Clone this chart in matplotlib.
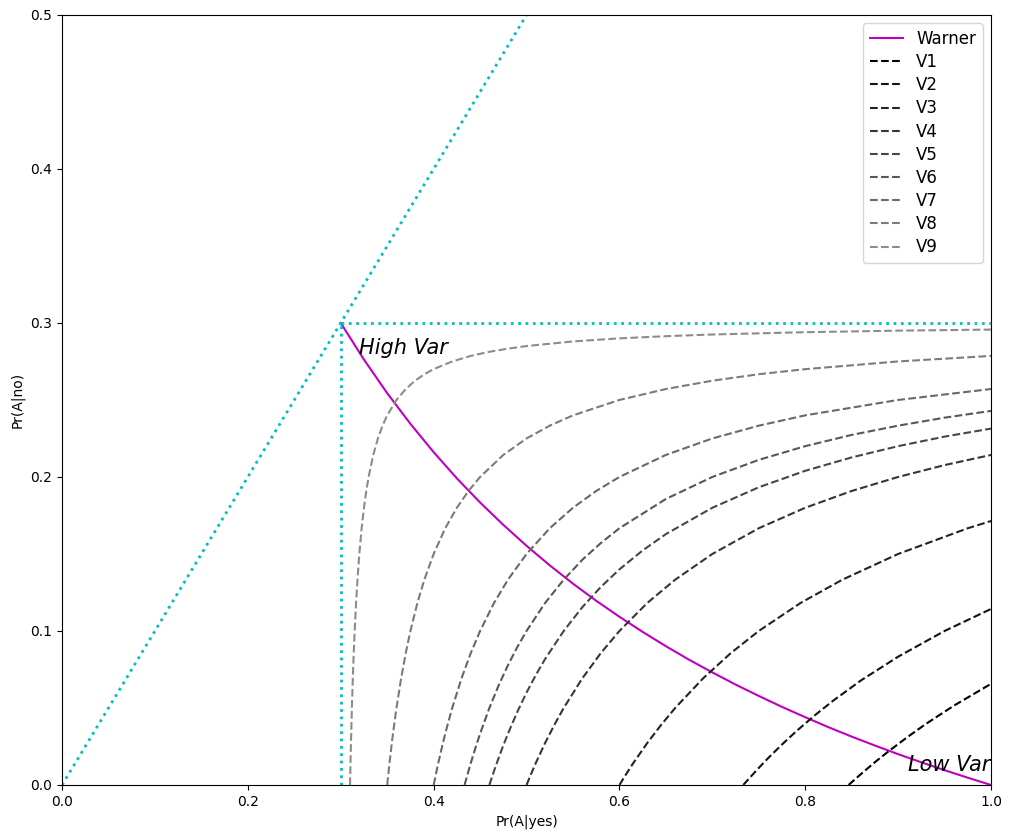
import numpy as np
import matplotlib
matplotlib.use('Agg')
import matplotlib.pyplot as plt

# Warner curve
warner_x = [0.3, 0.325, 0.35, 0.375, 0.4, 0.425, 0.45, 0.475, 0.5, 0.525, 0.55, 0.575, 0.6, 0.625,
            0.65, 0.675, 0.7, 0.725, 0.75, 0.775, 0.8, 0.825, 0.85, 0.875, 0.9, 0.925, 0.95, 0.975, 1.0]
warner_y = [0.3, 0.2762, 0.2544, 0.2345, 0.2161, 0.1991, 0.1834, 0.1689, 0.1553, 0.1426, 0.1307, 0.1196,
            0.1092, 0.0994, 0.0901, 0.0813, 0.0731, 0.0652, 0.0578, 0.0507, 0.0440, 0.0375, 0.0314,
            0.0256, 0.0200, 0.0147, 0.0096, 0.0047, 0.0]

# constant variance curves V1..V9
v1_x = [0.8467, 0.85, 0.86, 0.875, 0.89, 0.91, 0.93, 0.96, 1.0]
v1_y = [0.0, 0.0018, 0.0071, 0.0148, 0.022, 0.0311, 0.0397, 0.0515, 0.0657]

v2_x = [0.7333, 0.74, 0.75, 0.76, 0.775, 0.79, 0.81, 0.83, 0.86, 0.9, 0.95, 1.0]
v2_y = [0.0, 0.0045, 0.0111, 0.0174, 0.0263, 0.0347, 0.0451, 0.0547, 0.0679, 0.0833, 0.1, 0.1143]

v3_x = [0.6, 0.6075, 0.615, 0.63, 0.645, 0.66, 0.69, 0.72, 0.75, 0.795, 0.84, 0.9, 0.975, 1.0]
v3_y = [0.0, 0.0073, 0.0143, 0.0273, 0.0391, 0.05, 0.0692, 0.0857, 0.1, 0.1182, 0.1333, 0.15, 0.1667, 0.1714]

v4_x = [0.5, 0.505, 0.51, 0.52, 0.53, 0.54, 0.56, 0.58, 0.6, 0.63, 0.66, 0.7, 0.75, 0.8, 0.85, 0.9, 0.95, 1.0]
v4_y = [0.0, 0.0073, 0.0143, 0.0273, 0.0391, 0.05, 0.0692, 0.0857, 0.1, 0.1182, 0.1333, 0.15, 0.1667,
        0.18, 0.1909, 0.2, 0.2077, 0.2143]

v5_x = [0.46, 0.4625, 0.465, 0.47, 0.475, 0.48, 0.49, 0.5, 0.51, 0.52, 0.54, 0.56, 0.58, 0.6, 0.625,
        0.65, 0.7, 0.75, 0.8, 0.85, 0.9, 0.95, 1.0]
v5_y = [0.0, 0.0046, 0.0091, 0.0176, 0.0257, 0.0333, 0.0474, 0.06, 0.0714, 0.0818, 0.1, 0.1154, 0.1286,
        0.14, 0.1523, 0.1629, 0.18, 0.1933, 0.204, 0.2127, 0.22, 0.2262, 0.2314]

v6_x = [0.4333, 0.436, 0.44, 0.445, 0.45, 0.46, 0.47, 0.48, 0.49, 0.5, 0.52, 0.54, 0.56, 0.58, 0.6,
        0.65, 0.7, 0.75, 0.8, 0.85, 0.9, 0.95, 1.0]
v6_y = [0.0, 0.0059, 0.0143, 0.0241, 0.0333, 0.05, 0.0647, 0.0778, 0.0895, 0.1, 0.1182, 0.1333, 0.1462,
        0.1571, 0.1667, 0.1857, 0.2, 0.2111, 0.22, 0.2273, 0.2333, 0.2385, 0.2429]

v7_x = [0.4, 0.405, 0.41, 0.415, 0.42, 0.43, 0.44, 0.45, 0.465, 0.48, 0.5, 0.525, 0.55, 0.575, 0.6,
        0.65, 0.7, 0.75, 0.8, 0.9, 1.0]
v7_y = [0.0, 0.0143, 0.0273, 0.0391, 0.05, 0.0692, 0.0857, 0.1, 0.1182, 0.1333, 0.15, 0.1667, 0.18,
        0.1909, 0.2, 0.2143, 0.225, 0.2333, 0.24, 0.25, 0.2571]

v8_x = [0.35, 0.3525, 0.355, 0.3575, 0.36, 0.365, 0.37, 0.375, 0.3825, 0.39, 0.4, 0.4125, 0.425, 0.4375,
        0.45, 0.475, 0.5, 0.525, 0.55, 0.6, 0.65, 0.7, 0.75, 0.8, 0.9, 1.0]
v8_y = [0.0, 0.0143, 0.0273, 0.0391, 0.05, 0.0692, 0.0857, 0.1, 0.1182, 0.1333, 0.15, 0.1667, 0.18, 0.1909,
        0.2, 0.2143, 0.225, 0.2333, 0.24, 0.25, 0.2571, 0.2625, 0.2667, 0.27, 0.275, 0.2786]

v9_x = [0.31, 0.3105, 0.311, 0.3115, 0.312, 0.313, 0.314, 0.315, 0.3165, 0.318, 0.32, 0.3225, 0.325,
        0.3275, 0.33, 0.335, 0.34, 0.345, 0.35, 0.36, 0.37, 0.38, 0.39, 0.4, 0.42, 0.44, 0.46, 0.48,
        0.5, 0.55, 0.6, 0.65, 0.7, 0.8, 0.9, 1.0]
v9_y = [0.0, 0.0143, 0.0273, 0.0391, 0.05, 0.0692, 0.0857, 0.1, 0.1182, 0.1333, 0.15, 0.1667, 0.18,
        0.1909, 0.2, 0.2143, 0.225, 0.2333, 0.24, 0.25, 0.2571, 0.2625, 0.2667, 0.27, 0.275, 0.2786,
        0.2813, 0.2833, 0.285, 0.288, 0.29, 0.2914, 0.2925, 0.294, 0.295, 0.2957]

v_x = [v1_x, v2_x, v3_x, v4_x, v5_x, v6_x, v7_x, v8_x, v9_x]
v_y = [v1_y, v2_y, v3_y, v4_y, v5_y, v6_y, v7_y, v8_y, v9_y]
v_labels = ['V1', 'V2', 'V3', 'V4', 'V5', 'V6', 'V7', 'V8', 'V9']

fig = plt.figure(figsize=(10.12, 8.39), dpi=100)
ax = fig.add_axes([0.0613, 0.0644, 0.9180, 0.9178])

ax.plot(warner_x, warner_y, color='m', linewidth=1.5, label='Warner')
greys = np.linspace(0.0, 0.55, 9)
for i in range(9):
    ax.plot(v_x[i], v_y[i], '--', color=str(greys[i]), linewidth=1.5, label=v_labels[i])

# boundary lines
ax.plot([0, 0.5], [0, 0.5], ':', color='c', linewidth=2)
ax.plot([0.3, 1.0], [0.3, 0.3], ':', color='c', linewidth=2)
ax.plot([0.3, 0.3], [0, 0.3], ':', color='c', linewidth=2)

ax.text(0.32, 0.28, 'High Var', fontsize=15, style='italic')
ax.text(0.911, 0.009, 'Low Var', fontsize=15, style='italic')

ax.set_xlim(0, 1)
ax.set_ylim(0, 0.5)
ax.set_xlabel('Pr(A|yes)')
ax.set_ylabel('Pr(A|no)')
ax.legend(loc='upper right', fontsize=12, labelspacing=0.31)

fig.savefig('out.png', dpi=100)
